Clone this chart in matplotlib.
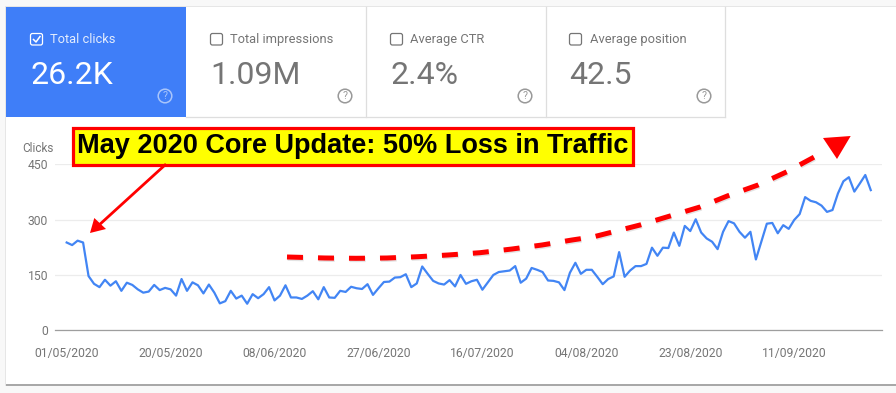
from matplotlib import pyplot as plt
from matplotlib.patches import Rectangle, FancyBboxPatch, Circle, Polygon
import matplotlib.patheffects as pe

plt.rcParams['font.family'] = ['Roboto', 'DejaVu Sans']

# clicks per day, starting 01/05/2020
clicks = [238, 231, 243, 238, 147, 126, 117, 137, 121, 133, 107, 129, 123, 111, 102, 105,
          123, 109, 115, 111, 94, 139, 107, 130, 122, 100, 124, 102, 73, 79, 107, 86,
          94, 72, 98, 87, 98, 117, 81, 94, 122, 89, 89, 85, 94, 106, 84, 117,
          89, 88, 107, 104, 118, 114, 112, 125, 96, 114, 131, 132, 143, 144, 152, 117,
          127, 173, 153, 134, 127, 124, 136, 119, 150, 126, 133, 137, 110, 130, 150, 158,
          160, 162, 174, 129, 140, 169, 164, 158, 135, 134, 130, 109, 156, 183, 153, 164,
          164, 145, 125, 139, 146, 212, 145, 162, 174, 174, 180, 224, 202, 224, 223, 265,
          229, 283, 269, 301, 265, 249, 240, 220, 267, 296, 290, 267, 251, 267, 192, 240,
          289, 291, 263, 285, 275, 299, 315, 361, 351, 347, 338, 321, 326, 371, 404, 415,
          376, 398, 421, 380]
days = list(range(len(clicks)))

x_tick_days = [0, 19, 38, 57, 76, 95, 114, 133]
x_tick_labels = ['01/05/2020', '20/05/2020', '08/06/2020', '27/06/2020',
                 '16/07/2020', '04/08/2020', '23/08/2020', '11/09/2020']
y_ticks = [0, 150, 300, 450]

tab_names = ['Total clicks', 'Total impressions', 'Average CTR', 'Average position']
tab_values = ['26.2K', '1.09M', '2.4%', '42.5']
tab_lefts = [6, 186, 366, 545]
callout = 'May 2020 Core Update: 50% Loss in Traffic'

# hand drawn trend arrow on top of the screenshot, in pixels
trend_x = [287, 325, 356, 387, 418, 448, 480, 512, 542, 572, 594, 640, 670, 700, 728, 758, 787, 813, 827]
trend_y = [257, 258, 258.3, 258, 256.7, 255, 252.7, 249, 245, 240, 236.7, 225, 216, 207, 195.7, 185, 171.7, 157.7, 150]

BLUE = '#3f7ef8'
GREY = '#757575'
LINE = '#dedede'
W, H = 896, 393

fig = plt.figure(figsize=(W / 100, H / 100), dpi=100, facecolor='#f8f8f8')

# page layer, pixel coordinates
bg = fig.add_axes([0, 0, 1, 1], zorder=0)
bg.set_xlim(0, W)
bg.set_ylim(H, 0)
bg.axis('off')
bg.add_patch(Rectangle((5, 6), 891, 380, facecolor='#e6e6e6', lw=0))
bg.add_patch(Rectangle((6, 384), 890, 1.6, facecolor='#a8a8a8', lw=0))
bg.add_patch(Rectangle((6, 6.5), 890, 377.5, facecolor='white', lw=0))

for i in range(4):
    left = tab_lefts[i]
    active = i == 0
    text_color = 'white' if active else GREY
    if active:
        bg.add_patch(Rectangle((left, 7), 180, 110, color=BLUE, lw=0))
    else:
        bg.plot([left + 180, left + 180], [7, 117], color=LINE, lw=0.9)
    bg.add_patch(FancyBboxPatch((left + 24.5, 33.5), 12, 11.5, boxstyle='round,pad=0,rounding_size=2',
                                facecolor='none', edgecolor=text_color, lw=0.9))
    if active:
        bg.plot([left + 27.5, left + 30, left + 34], [39.5, 42, 36.5], color='white', lw=1.1)
    bg.text(left + 44.5, 39.5, tab_names[i], color='#e3ecfd' if active else GREY, fontsize=9.3, va='center')
    bg.text(left + 24, 76, tab_values[i], color=text_color, fontsize=23, va='center')
    bg.add_patch(Circle((left + 159, 96), 6.8, facecolor='none',
                        edgecolor='#a9c5fb' if active else '#999999', lw=1.1))
    bg.text(left + 159, 96, '?', color='#a9c5fb' if active else '#999999', fontsize=7.5, ha='center', va='center')
bg.plot([186, 725], [116.7, 116.7], color=LINE, lw=0.9)

# chart, lined up so the axes sit where the screenshot has them
x0, x1 = 55, 881.7
y_bottom, y_top = 330.3, 164.3
ax = fig.add_axes([x0 / W, 1 - y_bottom / H, (x1 - x0) / W, (y_bottom - y_top) / H], zorder=1)
ax.patch.set_alpha(0)
ax.plot(days, clicks, color='#4285f4', lw=1.6, solid_joinstyle='round')
ax.set_xlim((x0 - 66.67) / 5.47, (x1 - 66.67) / 5.47)
ax.set_ylim(0, 450)
ax.set_xticks(x_tick_days)
ax.set_xticklabels(x_tick_labels)
ax.set_yticks(y_ticks)
ax.tick_params(length=0, labelsize=8.7, labelcolor=GREY)
ax.tick_params(axis='x', pad=12)
ax.tick_params(axis='y', pad=5)
ax.grid(axis='y', color='#ececec', lw=0.9)
ax.set_axisbelow(True)
for side in ['top', 'right', 'left']:
    ax.spines[side].set_visible(False)
ax.spines['bottom'].set_color('#9e9e9e')
ax.spines['bottom'].set_linewidth(0.9)

# annotations layer
top = fig.add_axes([0, 0, 1, 1], zorder=2)
top.set_xlim(0, W)
top.set_ylim(H, 0)
top.axis('off')
top.text(22, 148, 'Clicks', color=GREY, fontsize=8.5, va='center')
top.add_patch(Rectangle((73, 127.5), 559.5, 37, facecolor='#ffff00', edgecolor='#ff0000', lw=2.3))
top.text(353, 146, callout, family=['Liberation Sans'], weight='bold', fontsize=19.5, color='black',
         ha='center', va='center')

# red arrow to the drop
top.plot([165, 98], [165, 226], color='#ff0000', lw=2)
top.add_patch(Polygon([(90, 233), (94.3, 218), (106, 229)], color='#ff0000', lw=0))

# dashed arrow going up
top.plot(trend_x, trend_y, color='#ff0000', lw=3.6, dashes=(3.2, 3.0), dash_capstyle='butt',
         path_effects=[pe.SimpleLineShadow(offset=(0.5, -1), shadow_color='#bbbbbb', alpha=0.4), pe.Normal()])
top.add_patch(Polygon([(850.7, 136), (823, 138), (837, 159)], color='#ff0000', lw=0))

fig.savefig('out.png', dpi=100, facecolor=fig.get_facecolor())
